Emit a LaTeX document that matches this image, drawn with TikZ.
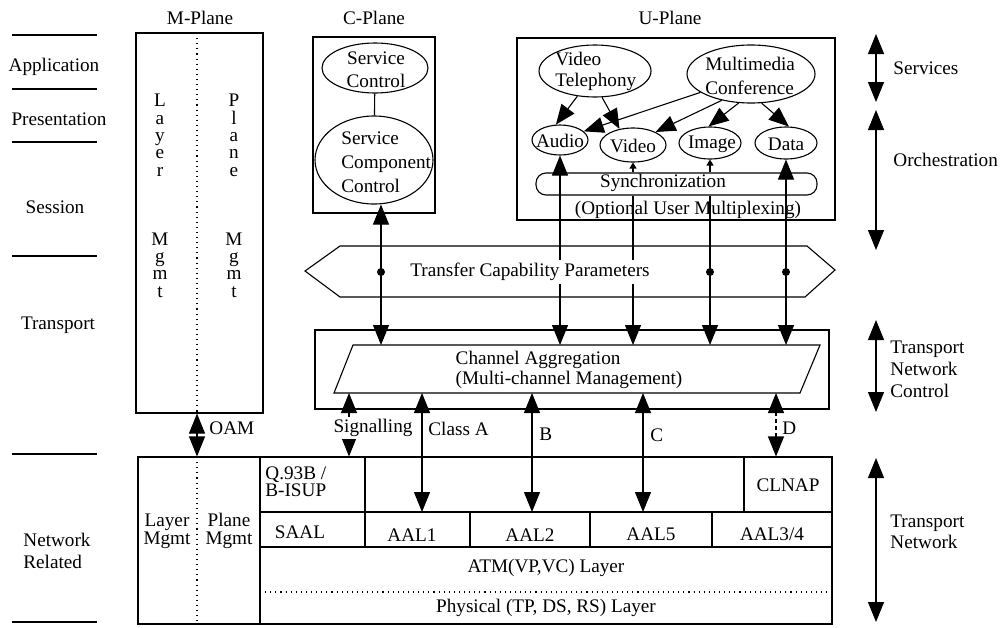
\documentclass[tikz,border=0pt]{standalone}
\usepackage{fontspec}
\setmainfont{Liberation Serif}
\usetikzlibrary{arrows.meta,shapes.geometric,calc}
\begin{document}
\begin{tikzpicture}[x=0.5pt,y=-0.5pt,
  every node/.style={font=\fontsize{9.6}{11}\selectfont, inner sep=0pt},
  ln/.style={line width=0.55pt},
  box/.style={draw, line width=0.55pt, inner sep=0pt},
  ell/.style={draw, ellipse, line width=0.55pt, inner sep=0pt},
  big/.style={line width=0.55pt, -{Triangle[length=10pt,width=8pt]}},
  bigb/.style={line width=0.55pt, {Triangle[length=10pt,width=8pt]}-{Triangle[length=10pt,width=8pt]}},
  small/.style={line width=0.55pt, -{Triangle[length=3pt,width=3.5pt]}},
  dotm/.style={circle, fill=black, minimum size=4pt, inner sep=0pt},
]
\useasboundingbox (0,0) rectangle (1005,627);

% ---------- left layer labels ----------
\foreach \yy in {35,89,142,256,454,622} \draw[ln] (12,\yy) -- (97,\yy);
\node (lApp) at (54,67) {Application};
\node (lPres) at (59,119) {Presentation};
\node (lSess) at (55,207) {Session};
\node (lTrans) at (58,325) {Transport};
\node[align=left, anchor=west] (lNet) at (23,551) {Network\\Related};

% ---------- plane labels ----------
\node (mpl) at (200,18) {M-Plane};
\node (cpl) at (374,18) {C-Plane};
\node (upl) at (670,18) {U-Plane};

% ---------- M-plane ----------
\node[box, minimum width=63.5pt, minimum height=190pt] (mbox) at (199.5,223) {};
\draw[ln, dotted] (197,33) -- (197,413);
\node[align=center, anchor=north, font=\fontsize{9.6}{8.65}\selectfont] (lmg) at (160,94)
  {L\\a\\y\\e\\r\\[25.95pt]M\\g\\m\\t};
\node[align=center, anchor=north, font=\fontsize{9.6}{8.65}\selectfont] (pmg) at (234,94)
  {P\\l\\a\\n\\e\\[25.95pt]M\\g\\m\\t};

% ---------- C-plane ----------
\node[box, minimum width=61pt, minimum height=88pt] (cbox) at (374,125) {};
\node[ell, minimum width=53pt, minimum height=25pt] (sc) at (375,68) {};
\node[align=center, font=\fontsize{9.6}{11.5}\selectfont] (scT) at (376,70) {Service\\Control};
\node[ell, minimum width=59pt, minimum height=44pt] (scc) at (374,160) {};
\node[align=left, anchor=west, font=\fontsize{9.6}{12}\selectfont] (sccT) at (341,162) {Service\\Component\\Control};
\draw[ln] (sc) -- (scc);

% ---------- U-plane ----------
\node[box, minimum width=159pt, minimum height=91pt] (ubox) at (676,129) {};
\node[ell, minimum width=56pt, minimum height=26pt] (vt) at (595,71) {};
\node[align=left, anchor=west, font=\fontsize{9.6}{10.5}\selectfont] (vtT) at (555,71) {Video\\Telephony};
\node[ell, minimum width=64pt, minimum height=29pt] (mc) at (751,74) {};
\node[align=left, anchor=west, font=\fontsize{9.6}{12}\selectfont] (mcT) at (705,76) {Multimedia\\Conference};
\node[ell, minimum width=28pt, minimum height=15pt] (audio) at (560,140) {};
\node (audioT) at (560,141) {Audio};
\node[ell, minimum width=33pt, minimum height=17pt] (video) at (633,145) {};
\node (videoT) at (633,146) {Video};
\node[ell, minimum width=31pt, minimum height=16pt] (image) at (710,143) {};
\node (imageT) at (712,144) {Image};
\node[ell, minimum width=31pt, minimum height=16pt] (data) at (786,143) {};
\node (dataT) at (786,144) {Data};
\node[draw, line width=0.55pt, rounded corners=5pt, minimum width=140.5pt, minimum height=11pt] (sync) at (676.5,184) {};
\node (syncT) at (663,183) {Synchronization};
\node (optT) at (688,210) {(Optional User Multiplexing)};

\draw[big] (vt.235) -- (audio.105);
\draw[big] (vt.285) -- (video.130);
\draw[big] (mc.200) -- (audio.20);
\draw[big] (mc.222) -- (video.30);
\draw[big] (mc.247) -- (image.95);
\draw[big] (mc.290) -- (data.80);

% ---------- transfer capability parameters ----------
\draw[ln] (305,271) -- (340,246) -- (807,246) -- (835,270) -- (805,297) -- (340,297) -- cycle;
\coordinate (hexMid) at (0,272);

% ---------- transport box ----------
\node[box, minimum width=257pt, minimum height=39.5pt] (tbox) at (572,369.5) {};
\draw[ln] (353,345) -- (820,345) -- (800,393) -- (334,393) -- cycle;
\coordinate (caTop) at (0,345);
\coordinate (caBot) at (0,393);
\node[align=left, font=\fontsize{9.6}{10}\selectfont] (caT) at (569,370) {Channel Aggregation\\(Multi-channel Management)};

% vertical connectors from planes
\coordinate (xCP) at (381,0);
\draw[bigb] (xCP |- scc.south) -- (xCP |- caTop);
\node[dotm] (d1) at (xCP |- hexMid) {};
\draw[bigb] (audio.south) -- (audio.south |- caTop);
\draw[small] (video.south |- sync.north) -- (video.south);
\draw[big] (video.south |- sync.south) -- (video.south |- caTop);
\draw[small] (image.south |- sync.north) -- (image.south);
\draw[big] (image.south |- sync.south) -- (image.south |- caTop);
\node[dotm] (d2) at (image.south |- hexMid) {};
\draw[bigb] (data.south) -- (data.south |- caTop);
\node[dotm] (d3) at (data.south |- hexMid) {};
\node[fill=white, inner sep=1.5pt] (tcp) at (530,272) {Transfer Capability Parameters};

% ---------- bottom stack ----------
\node[box, minimum width=347pt, minimum height=83.5pt] (bbox) at (485,540.5) {};
\draw[ln, dotted] (197,457) -- (197,624);
\draw[ln] (260,457) -- (260,624);
\draw[ln] (260,512) -- (832,512);
\draw[ln] (260,547) -- (832,547);
\draw[ln, dotted] (260,592) -- (832,592);
\draw[ln] (365,457) -- (365,547);
\draw[ln] (744,457) -- (744,512);
\draw[ln] (470,512) -- (470,547);
\draw[ln] (590,512) -- (590,547);
\draw[ln] (712,512) -- (712,547);
\coordinate (aalTop) at (0,512);

\node[align=center, font=\fontsize{9.6}{9}\selectfont] (lmgB) at (167,531) {Layer\\Mgmt};
\node[align=center, font=\fontsize{9.6}{9}\selectfont] (pmgB) at (229,531) {Plane\\Mgmt};
\node[align=left, anchor=west, font=\fontsize{9.6}{8.5}\selectfont] (q93) at (265,482) {Q.93B /\\B-ISUP};
\node (saal) at (300,532) {SAAL};
\node (aal1) at (412,535) {AAL1};
\node (aal2) at (530,535) {AAL2};
\node (aal5) at (651,534) {AAL5};
\node (aal34) at (772,534) {AAL3/4};
\node (clnap) at (788,485) {CLNAP};
\node (atm) at (546,568) {ATM(VP,VC) Layer};
\node (phys) at (546,608) {Physical (TP, DS, RS) Layer};

% ---------- connectors between transport and stack ----------
\coordinate (xOAM) at (197,0);
\draw[bigb] (xOAM |- mbox.south) -- (xOAM |- bbox.north);
\node[anchor=west] (oam) at (209,428) {OAM};

\coordinate (xSig) at (349,0);
\coordinate (xA) at (422,0);
\coordinate (xB) at (532,0);
\coordinate (xC) at (643,0);
\coordinate (xD) at (776,0);
\draw[bigb] (xSig |- bbox.north) -- (xSig |- caBot);
\node[fill=white, inner sep=1pt] (sig) at (373,428) {Signalling};
\draw[bigb] (xA |- aalTop) -- (xA |- caBot);
\node[anchor=west] (clA) at (428,429) {Class A};
\draw[bigb] (xB |- aalTop) -- (xB |- caBot);
\node[anchor=west] (clB) at (539,434) {B};
\draw[bigb] (xC |- aalTop) -- (xC |- caBot);
\node[anchor=west] (clC) at (650,435) {C};
\draw[bigb, dash pattern=on 2pt off 1.5pt] (xD |- bbox.north) -- (xD |- caBot);
\node[anchor=west] (clD) at (782,428) {D};

% ---------- right-hand scopes ----------
\coordinate (svT) at (876,34);  \coordinate (svB) at (876,102);
\coordinate (orT) at (876,110); \coordinate (orB) at (876,250);
\coordinate (tcT) at (876,320); \coordinate (tcB) at (876,412);
\coordinate (tnT) at (876,458); \coordinate (tnB) at (876,622);
\draw[bigb] (svT) -- (svB);
\draw[bigb] (orT) -- (orB);
\draw[bigb] (tcT) -- (tcB);
\draw[bigb] (tnT) -- (tnB);
\node[anchor=west] (svL) at (893,68) {Services};
\node[anchor=west] (orL) at (893,160) {Orchestration};
\node[anchor=west, align=left] (tcL) at (890,369) {Transport\\Network\\Control};
\node[anchor=west, align=left, font=\fontsize{9.6}{10.5}\selectfont] (tnL) at (890,532) {Transport\\Network};
\end{tikzpicture}
\end{document}
